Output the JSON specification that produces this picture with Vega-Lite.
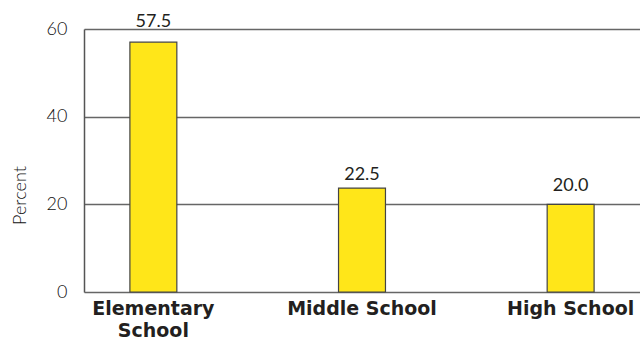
{
  "$schema": "https://vega.github.io/schema/vega-lite/v6.json",
  "width": 556,
  "height": 263,
  "autosize": "none",
  "padding": {"left": 84, "top": 29, "right": 0, "bottom": 52},
  "background": "white",
  "config": {"view": {"stroke": null}},
  "data": {"values": [
    {"level": "Elementary School", "percent": 57.0, "labelValue": 57.5},
    {"level": "Middle School", "percent": 23.7, "labelValue": 22.5},
    {"level": "High School", "percent": 20.0, "labelValue": 20.0}
  ]},
  "encoding": {
    "x": {
      "field": "level", "type": "nominal", "sort": null,
      "scale": {"paddingInner": 0.775, "paddingOuter": 0.22},
      "axis": {
        "title": null, "labelAngle": 0, "domain": false, "ticks": false,
        "labelFont": "DejaVu Sans", "labelFontWeight": "bold", "labelFontSize": 19,
        "labelColor": "#231f20", "labelPadding": 7, "labelLineHeight": 22,
        "labelExpr": "datum.label == 'Elementary School' ? ['Elementary', 'School'] : datum.label",
        "labelOverlap": false, "labelBound": false, "labelLimit": 300
      }
    }
  },
  "layer": [
    {"mark": {"type": "bar", "color": "#FFE619", "stroke": "#444444", "strokeWidth": 1.2},
     "encoding": {
      "y": {
      "field": "percent", "type": "quantitative",
      "scale": {"domain": [0, 60], "nice": false},
      "axis": {
        "values": [0, 20, 40, 60], "title": "Percent",
        "grid": true, "gridColor": "#666666", "gridWidth": 1.5, "gridOpacity": 1,
        "domain": true, "domainColor": "#555555", "domainWidth": 1.5,
        "ticks": false, "labelPadding": 17,
        "labelFont": "Lato", "labelFontWeight": 300, "labelFontSize": 18, "labelColor": "#111111",
        "titleFont": "Lato", "titleFontWeight": 300, "titleFontSize": 18, "titleColor": "#111111",
        "titleAngle": -90, "titleX": -59, "titleY": 166, "titleBaseline": "alphabetic", "titleAlign": "center"
      }
    }}},
    {"mark": {"type": "text", "dy": -13, "baseline": "alphabetic", "font": "Lato", "fontSize": 18, "color": "#231f20"},
     "encoding": {
       "y": {"field": "labelValue", "type": "quantitative"},
       "text": {"field": "labelValue", "type": "quantitative", "format": ".1f"}}}
  ]
}
